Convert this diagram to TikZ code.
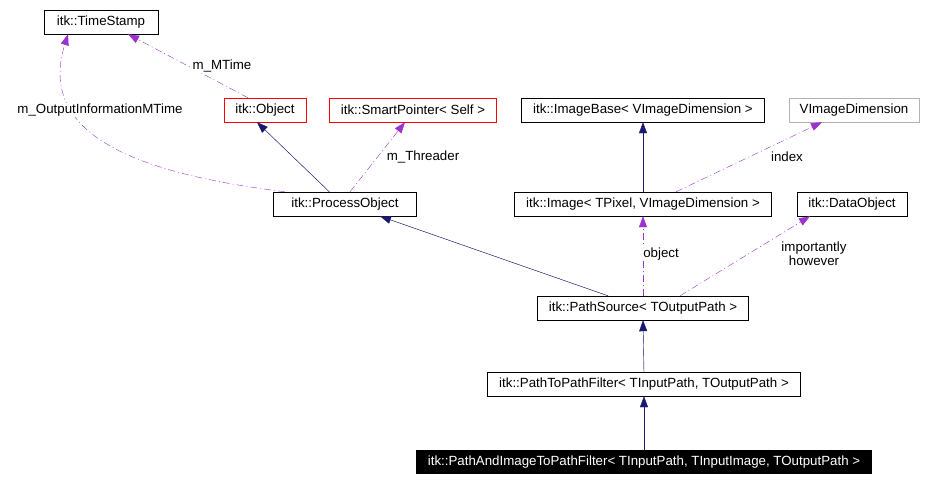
\documentclass[tikz,border=0pt]{standalone}
\usepackage{fontspec}
\setmainfont{Liberation Sans}
\usetikzlibrary{arrows.meta}
\definecolor{navy}{RGB}{25,25,112}
\definecolor{purp}{RGB}{154,50,205}
\begin{document}
\begin{tikzpicture}[x=1pt,y=-1pt,
  box/.style={draw=black,fill=white,minimum height=24pt,inner xsep=2pt,font=\fontsize{13.3}{15}\selectfont,text=black},
  redbox/.style={box,draw=red},
  greybox/.style={box,draw=gray!60},
  inh/.style={draw=navy,-{Triangle[length=11pt,width=8pt]},fill=navy},
  use/.style={draw=purp,dash pattern=on 7pt off 3pt on 1pt off 3pt,-{Triangle[length=11pt,width=8pt]}},
  lbl/.style={font=\fontsize{13.3}{14}\selectfont,align=center,fill=white,inner sep=1pt}]
\useasboundingbox (0,0) rectangle (927,482);
\node[box,minimum width=114pt] (ts) at (101,22) {itk::TimeStamp};
\node[redbox,minimum width=82pt] (obj) at (265,110) {itk::Object};
\node[redbox,minimum width=167pt] (sp) at (413,110) {itk::SmartPointer< Self >};
\node[box,minimum width=243pt] (ib) at (643,110) {itk::ImageBase< VImageDimension >};
\node[greybox,minimum width=130pt] (vd) at (854,110) {VImageDimension};
\node[box,minimum width=143pt] (po) at (345,204) {itk::ProcessObject};
\node[box,minimum width=257pt] (im) at (643,204) {itk::Image< TPixel, VImageDimension >};
\node[box,minimum width=110pt] (do) at (852,204) {itk::DataObject};
\node[box,minimum width=211pt] (ps) at (643,308) {itk::PathSource< TOutputPath >};
\node[box,minimum width=313pt] (pp) at (644,384) {itk::PathToPathFilter< TInputPath, TOutputPath >};
\node[box,fill=black,text=white,minimum width=455pt,minimum height=23pt] (pi) at (644,462) {itk::PathAndImageToPathFilter< TInputPath, TInputImage, TOutputPath >};
\draw[inh] (po.north west) ++(56,0) -- ([xshift=-8pt]obj.south);
\draw[use] ([xshift=-60pt]po.north) .. controls (150,175) and (35,140) .. ([xshift=-33pt]ts.south);
\node[lbl] at (100,110) {m\_OutputInformationMTime};
\draw[use] ([xshift=-17pt]obj.north) -- ([xshift=27pt]ts.south);
\node[lbl] at (222,66) {m\_MTime};
\draw[use] ([xshift=5pt]po.north) -- ([xshift=-8pt]sp.south);
\node[lbl] at (423,157) {m\_Threader};
\draw[inh] (im.north) -- (ib.south);
\draw[use] ([xshift=33pt]im.north) -- ([xshift=-32pt]vd.south);
\node[lbl] at (787,157) {index};
\draw[inh] ([xshift=-35pt]ps.north) -- ([xshift=35pt]po.south);
\draw[use] (ps.north) -- (im.south);
\node[lbl] at (661,254) {object};
\draw[use] ([xshift=37pt]ps.north) -- ([xshift=-42pt]do.south);
\node[lbl,fill=none] at (814,254) {importantly\\however};
\draw[inh] (pp.north) -- (ps.south);
\draw[inh] (pi.north) -- (pp.south);
\end{tikzpicture}
\end{document}
